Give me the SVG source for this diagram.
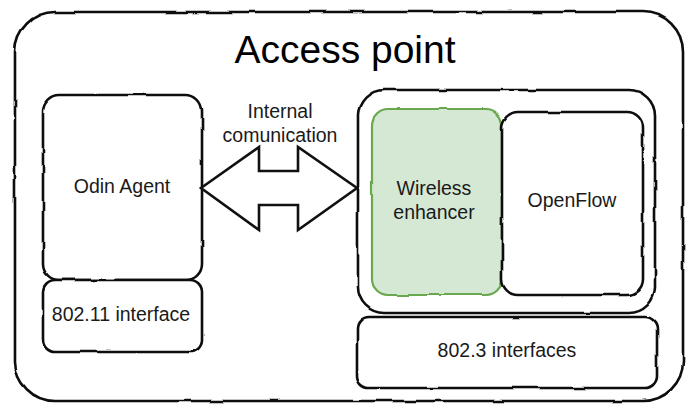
<svg xmlns="http://www.w3.org/2000/svg" width="691" height="405" viewBox="0 0 691 405">
<defs>
<filter id="rough" x="-5%" y="-5%" width="110%" height="110%">
<feTurbulence type="fractalNoise" baseFrequency="0.035" numOctaves="2" seed="3" result="n"/>
<feDisplacementMap in="SourceGraphic" in2="n" scale="3" xChannelSelector="R" yChannelSelector="G"/>
</filter>
</defs>
<style>
.box{fill:#fff;stroke:#111;stroke-width:2.6;filter:url(#rough);}
.green{fill:#d5e8d4;stroke:#6aa84f;stroke-width:2.2;filter:url(#rough);}
text{font-family:"Liberation Sans",Arial,sans-serif;font-size:19.5px;fill:#1a1a1a;text-anchor:middle;}
.title{font-size:39px;fill:#000;}
</style>
<rect width="691" height="405" fill="#fff"/>
<g id="access-point">
<rect class="box" x="15" y="12" width="668" height="389" rx="40"/>
<text class="title" x="345" y="63">Access point</text>
</g>
<g id="odin-agent">
<rect class="box" x="43" y="95" width="159" height="185" rx="16"/>
<text x="122" y="193">Odin Agent</text>
</g>
<g id="iface-80211">
<rect class="box" x="43" y="280" width="159" height="72" rx="12"/>
<text x="121" y="321">802.11 interface</text>
</g>
<g id="switch-container">
<rect class="box" x="358" y="90" width="297" height="223" rx="26"/>
</g>
<g id="wireless-enhancer">
<rect class="green" x="372" y="109" width="130" height="186" rx="16"/>
<text x="434" y="195">Wireless</text>
<text x="434" y="219">enhancer</text>
</g>
<g id="openflow">
<rect class="box" x="502" y="112" width="141" height="183" rx="16"/>
<text x="572" y="207">OpenFlow</text>
</g>
<g id="iface-8023">
<rect class="box" x="357" y="317" width="300" height="71" rx="12"/>
<text x="507" y="357">802.3 interfaces</text>
</g>
<g id="connectors">
<polygon points="201,188 259,147 259,171 298,171 298,147 357,188 298,230 298,205 259,205 259,230" fill="#fff" stroke="#111" stroke-width="2.6" stroke-linejoin="miter"/>
<text x="280" y="118">Internal</text>
<text x="280" y="142">comunication</text>
</g>
</svg>
